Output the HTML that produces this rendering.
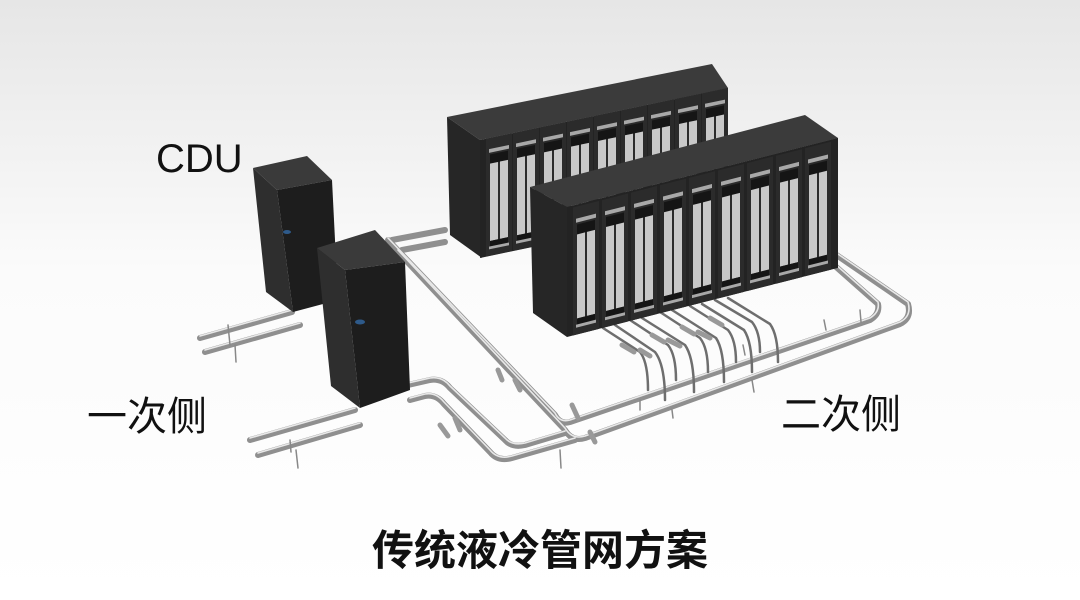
<!DOCTYPE html>
<html><head><meta charset="utf-8"><style>
html,body{margin:0;padding:0;width:1080px;height:600px;overflow:hidden;background:#fff}
svg{display:block}
text{font-family:"Liberation Sans","Noto Sans CJK SC",sans-serif}
</style></head><body>
<svg width="1080" height="600" viewBox="0 0 1080 600" xmlns="http://www.w3.org/2000/svg">
<defs>
<linearGradient id="bg" x1="0" y1="0" x2="0" y2="1">
<stop offset="0" stop-color="#e6e6e6"/><stop offset="0.45" stop-color="#fbfbfb"/><stop offset="1" stop-color="#ffffff"/>
</linearGradient>
<g id="unit">
<rect x="0" y="0" width="26" height="128" fill="#2b2b2b"/>
<rect x="3" y="12" width="20" height="4" fill="#a8a8a8"/>
<rect x="4" y="18" width="18" height="10" fill="#151515"/>
<rect x="4" y="28" width="8" height="84" fill="#c8c8c8"/>
<rect x="14" y="28" width="8" height="84" fill="#c8c8c8"/>
<rect x="4" y="112" width="18" height="6" fill="#151515"/>
<rect x="3" y="118" width="20" height="3" fill="#a8a8a8"/>
</g>
</defs>
<rect width="1080" height="600" fill="url(#bg)"/>

<g fill="none" stroke-linecap="round" stroke-linejoin="round">
<g stroke="#8f8f8f" stroke-width="6">
<path d="M200 338 L292 312"/><path d="M205 352 L300 325"/>
<path d="M250 440 L355 410"/><path d="M258 455 L360 425"/>
<path d="M445 230 L392 240 L390 242"/><path d="M445 242 L402 250"/>
<path d="M388 240 L555 415 Q560 425 570 422 L870 320 Q880 314 878 304 L826 258"/>
<path d="M398 252 L565 430 Q572 442 585 438 L900 324 Q912 318 908 304 L835 254"/>
<path d="M408 385 L430 380 Q442 378 450 388 L505 440 Q512 448 525 445 L565 433"/>
<path d="M410 400 L425 396 Q436 394 444 404 L490 452 Q498 462 512 458 L575 440"/>
</g>
<g stroke="#e8e8e8" stroke-width="1.6">
<path d="M200 336 L292 310"/><path d="M205 350 L300 323"/>
<path d="M250 438 L355 408"/><path d="M258 453 L360 423"/>
<path d="M388 238 L555 413 Q560 423 570 420 L870 318 Q880 312 878 302 L826 256"/>
<path d="M398 250 L565 428 Q572 440 585 436 L900 322 Q912 316 908 302 L835 252"/>
<path d="M408 383 L430 378 Q442 376 450 386 L505 438 Q512 446 525 443 L565 431"/>
<path d="M410 398 L425 394 Q436 392 444 402 L490 450 Q498 460 512 456 L575 438"/>
</g>
<g stroke="#6e6e6e" stroke-width="2.5">
<path d="M603 328 L640 352 Q648 362 648 390"/><path d="M615 325 L655 352 Q665 365 665 400"/>
<path d="M630 320 L668 345 Q676 355 676 380"/><path d="M642 318 L685 345 Q694 358 694 392"/>
<path d="M660 312 L700 338 Q708 348 708 372"/><path d="M672 310 L716 338 Q724 350 724 382"/>
<path d="M690 306 L728 330 Q736 340 736 362"/><path d="M702 304 L744 330 Q752 342 752 372"/>
<path d="M715 300 L752 322 Q760 332 760 352"/><path d="M728 298 L770 324 Q778 335 778 362"/>
</g>
<g stroke="#999" stroke-width="5">
<path d="M622 345 L634 352"/><path d="M652 335 L664 342"/><path d="M682 327 L694 334"/><path d="M710 318 L722 325"/><path d="M640 350 L650 356"/><path d="M668 340 L680 346"/><path d="M698 332 L710 338"/>
<path d="M440 425 L448 436"/><path d="M455 418 L460 430"/><path d="M515 380 L520 390"/><path d="M498 370 L502 380"/><path d="M572 405 L578 418"/><path d="M590 432 L595 442"/>
</g>
<g stroke="#888" stroke-width="1.5">
<path d="M228 325 L230 345"/><path d="M235 345 L236 362"/><path d="M296 450 L298 468"/><path d="M290 440 L291 452"/><path d="M640 400 L640 410"/><path d="M672 410 L673 418"/><path d="M860 310 L861 322"/><path d="M824 320 L826 330"/><path d="M743 345 L745 355"/><path d="M752 380 L754 392"/><path d="M560 450 L561 468"/>
</g>
</g>

<polygon points="253,168 307,156 332,180 277,190" fill="#3a3a3a"/>
<polygon points="253,168 277,190 293,312 266,292" fill="#2e2e2e"/>
<polygon points="277,190 332,180 338,300 293,312" fill="#1d1d1d"/>
<ellipse cx="287" cy="232" rx="4" ry="2" fill="#2e5a8a"/>
<polygon points="317,248 375,230 405,262 345,270" fill="#3a3a3a"/>
<polygon points="317,248 345,270 360,408 331,386" fill="#2e2e2e"/>
<polygon points="345,270 405,262 410,390 360,408" fill="#1d1d1d"/>
<ellipse cx="360" cy="322" rx="5" ry="2.5" fill="#2e5a8a"/>

<polygon points="447,117 712,64 728,88 480,140" fill="#3b3b3b"/>
<polygon points="447,117 480,140 482,258 450,235" fill="#262626"/>
<g transform="matrix(1,-0.21,0,1,480,140)">
<rect x="0" y="0" width="248" height="118" fill="#232323"/>
<g transform="translate(6,0) scale(1,0.92)">
<use href="#unit" x="0"/><use href="#unit" x="27"/><use href="#unit" x="54"/><use href="#unit" x="81"/><use href="#unit" x="108"/><use href="#unit" x="135"/><use href="#unit" x="162"/><use href="#unit" x="189"/><use href="#unit" x="216"/>
</g>
</g>
<polygon points="530,187 805,115 838,138 567,207" fill="#3b3b3b"/>
<polygon points="530,187 567,207 567,337 533,313" fill="#262626"/>
<g transform="matrix(1,-0.255,0,1,567,207)">
<rect x="0" y="0" width="271" height="130" fill="#232323"/>
<g transform="translate(6,2)">
<use href="#unit" x="0"/><use href="#unit" x="29"/><use href="#unit" x="58"/><use href="#unit" x="87"/><use href="#unit" x="116"/><use href="#unit" x="145"/><use href="#unit" x="174"/><use href="#unit" x="203"/><use href="#unit" x="232"/>
</g>
</g>

<text x="156" y="172" font-size="40" fill="#111">CDU</text>
<text x="87" y="430" font-size="40" fill="#111">一次侧</text>
<text x="781" y="428" font-size="40" fill="#111">二次侧</text>
<text x="540" y="565" font-size="42" font-weight="bold" fill="#111" text-anchor="middle">传统液冷管网方案</text>
</svg>
</body></html>
